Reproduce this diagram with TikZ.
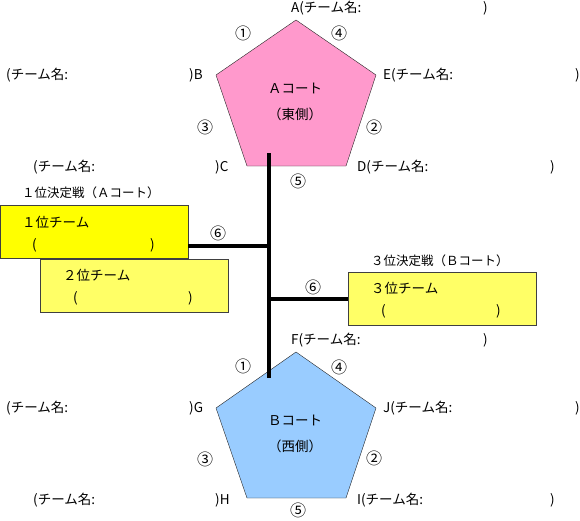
\documentclass[tikz,border=0pt]{standalone}
\usepackage{fontspec}
\setmainfont{Noto Sans CJK JP}
\definecolor{courtpink}{RGB}{255,153,204}
\definecolor{courtblue}{RGB}{153,204,255}
\definecolor{boxyellow}{RGB}{255,255,0}
\definecolor{boxpale}{RGB}{255,255,102}
\begin{document}
\begin{tikzpicture}[x=1pt,y=-1pt,
  lbl/.style={anchor=west, inner sep=0pt, font=\fontsize{13.5}{15}\selectfont},
  ttl/.style={anchor=west, inner sep=0pt, font=\fontsize{12.5}{14}\selectfont},
  ctr/.style={inner sep=0pt, font=\fontsize{13.5}{15}\selectfont},
  num/.style={inner sep=0pt, font=\fontsize{16}{17}\selectfont},
  teambox/.style={draw=black!75, anchor=north west, inner sep=0pt, minimum width=188pt, minimum height=53pt},
  courtline/.style={draw=black!85, line join=miter},
  trunk/.style={line width=3.5pt}]
\useasboundingbox (0,0) rectangle (580,520);
% A court (east)
\coordinate (aA) at (296,20);
\coordinate (aE) at (376,75);
\coordinate (aD) at (346,166);
\coordinate (aC) at (247,166);
\coordinate (aB) at (216,75);
\path[courtline, fill=courtpink] (aA) -- (aE) -- (aD) -- (aC) -- (aB) -- cycle;
\node[ctr] (acourt) at (295,88) {Ａコート};
\node[ctr] (aside) at (295,114) {（東側）};
% B court (west)
\coordinate (bF) at (296,352);
\coordinate (bJ) at (376,408);
\coordinate (bI) at (346,498);
\coordinate (bH) at (247,498);
\coordinate (bG) at (216,408);
\path[courtline, fill=courtblue] (bF) -- (bJ) -- (bI) -- (bH) -- (bG) -- cycle;
\node[ctr] (bcourt) at (295,420) {Ｂコート};
\node[ctr] (bside) at (295,446) {（西側）};
% result boxes
\node[teambox, fill=boxyellow] (first) at (0,205) {};
\node[teambox, fill=boxpale] (second) at (40,259) {};
\node[teambox, fill=boxpale] (third) at (348,272) {};
\node[ttl] (firstttl) at (22,193) {１位決定戦（Ａコート）};
\node[ttl] (thirdttl) at (371,261) {３位決定戦（Ｂコート）};
\node[lbl] (firstname) at (22,222) {１位チーム};
\node[lbl] (firstl) at (32,245) {(};
\node[lbl] (firstr) at (150,245) {)};
\node[lbl] (secondname) at (63,275) {２位チーム};
\node[lbl] (secondl) at (73,298) {(};
\node[lbl] (secondr) at (188,298) {)};
\node[lbl] (thirdname) at (371,288) {３位チーム};
\node[lbl] (thirdl) at (381,311) {(};
\node[lbl] (thirdr) at (496,311) {)};
% tournament lines
\coordinate (atop) at (269,153);
\coordinate (bbot) at (269,378);
\coordinate (jfirst) at (269,246);
\coordinate (jthird) at (269,299);
\draw[trunk] (atop) -- (bbot);
\draw[trunk] (jfirst) -- (first.east |- jfirst);
\draw[trunk] (jthird) -- (third.west |- jthird);
% match numbers
\node[num] (a1) at (243,33) {①};
\node[num] (a4) at (339,33) {④};
\node[num] (a3) at (205,127) {③};
\node[num] (a2) at (374,127) {②};
\node[num] (a5) at (298,181) {⑤};
\node[num] (f6) at (218,233) {⑥};
\node[num] (t6) at (313,287) {⑥};
\node[num] (b1) at (243,366) {①};
\node[num] (b4) at (339,367) {④};
\node[num] (b3) at (205,459) {③};
\node[num] (b2) at (374,458) {②};
\node[num] (b5) at (298,510) {⑤};
% team names, A court
\node[lbl] (tA) at (291,8) {A(チーム名:};
\node[lbl] (tAr) at (483,8) {)};
\node[lbl] (tB) at (6,75) {(チーム名:};
\node[lbl] (tBr) at (189,75) {)B};
\node[lbl] (tE) at (383,75) {E(チーム名:};
\node[lbl] (tEr) at (575,75) {)};
\node[lbl] (tC) at (33,167) {(チーム名:};
\node[lbl] (tCr) at (215,167) {)C};
\node[lbl] (tD) at (357,167) {D(チーム名:};
\node[lbl] (tDr) at (550,167) {)};
% team names, B court
\node[lbl] (tF) at (291,340) {F(チーム名:};
\node[lbl] (tFr) at (483,340) {)};
\node[lbl] (tG) at (6,408) {(チーム名:};
\node[lbl] (tGr) at (189,408) {)G};
\node[lbl] (tJ) at (383,408) {J(チーム名:};
\node[lbl] (tJr) at (575,408) {)};
\node[lbl] (tH) at (33,500) {(チーム名:};
\node[lbl] (tHr) at (215,500) {)H};
\node[lbl] (tI) at (357,500) {I(チーム名:};
\node[lbl] (tIr) at (550,500) {)};
\end{tikzpicture}
\end{document}
